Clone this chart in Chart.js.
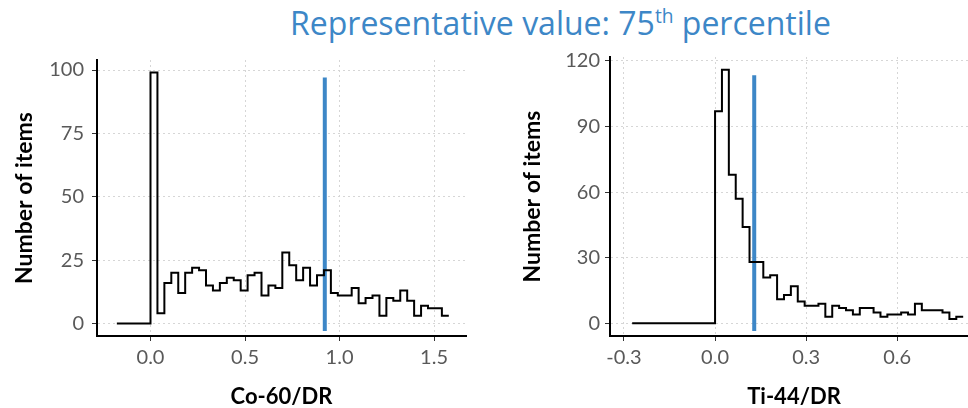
<!DOCTYPE html>
<html>
<head>
<meta charset="utf-8">
<script src="https://cdn.jsdelivr.net/npm/chart.js@4"></script>
<style>
  html, body { margin: 0; padding: 0; background: #fff; overflow: hidden; }
  body { width: 968px; height: 408px; position: relative; }
  #title {
    position: absolute; left: 290px; top: 5px; margin: 0;
    font-family: "Open Sans", sans-serif; font-size: 32px; font-weight: 400;
    line-height: 36px; color: #3d87c7; white-space: nowrap;
  }
  #title sup { font-size: 60%; line-height: 0; }
  #left { position: absolute; left: 0; top: 40px; }
  #right { position: absolute; left: 500px; top: 40px; }
</style>
</head>
<body>
<div id="title">Representative value: 75<sup>th</sup> percentile</div>
<canvas id="left" width="480" height="368"></canvas>
<canvas id="right" width="490" height="368"></canvas>
<script>
// Co-60/DR histogram (counts per bin, bins start at 0)
const co60Counts = [99, 4, 16, 20, 12, 20, 22, 21, 15, 13, 16, 18, 17, 13, 19, 20, 11, 15, 14, 28,
                    23, 17, 22, 15, 19, 21, 12, 11, 11, 14, 8, 10, 11, 3, 10, 9, 13, 9, 3, 7, 6, 6, 3];
const co60BinWidth = 0.0367;
const co60LeadIn = -0.178;
const co60Rep = [0.922, -3, 97];      // x, y from, y to
const co60XTicks = [0, 0.5, 1, 1.5];
const co60YTicks = [0, 25, 50, 75, 100];

// Ti-44/DR histogram
const ti44Counts = [97, 116, 68, 57, 44, 28, 28, 21, 22, 11, 13, 17, 10, 8, 8, 9, 3, 8, 7, 6,
                    4, 7, 7, 5, 3, 4, 4, 5, 4, 9, 6, 6, 6, 5, 2, 3];
const ti44BinWidth = 0.0227;
const ti44LeadIn = -0.273;
const ti44Rep = [0.129, -3.5, 113.5];
const ti44XTicks = [-0.3, 0, 0.3, 0.6];
const ti44YTicks = [0, 30, 60, 90, 120];

const FONT = "Lato, 'Liberation Sans', sans-serif";
const BLUE = "#3d87c7";

function stepPoints(leadIn, width, counts) {
  const pts = [{ x: leadIn, y: 0 }];
  counts.forEach((c, i) => pts.push({ x: i * width, y: c }));
  pts.push({ x: counts.length * width, y: counts[counts.length - 1] });
  return pts;
}

function renderHist(canvasId, o) {
  new Chart(document.getElementById(canvasId), {
    type: "line",
    data: {
      datasets: [
        {
          data: stepPoints(o.leadIn, o.binWidth, o.counts),
          stepped: true,
          borderColor: "#000",
          borderWidth: 2,
          pointRadius: 0,
          fill: false
        },
        {
          data: [{ x: o.rep[0], y: o.rep[1] }, { x: o.rep[0], y: o.rep[2] }],
          borderColor: BLUE,
          borderWidth: 4,
          borderCapStyle: "butt",
          pointRadius: 0,
          fill: false
        }
      ]
    },
    options: {
      responsive: false,
      animation: false,
      layout: { padding: { top: 14, right: o.padRight, left: 0, bottom: 0 } },
      plugins: { legend: { display: false }, tooltip: { enabled: false } },
      scales: {
        x: {
          type: "linear",
          min: o.xMin,
          max: o.xMax,
          afterBuildTicks: s => { s.ticks = o.xTicks.map(v => ({ value: v })); },
          afterFit: s => { s.height = 72; },
          ticks: {
            callback: v => v.toFixed(1),
            color: "#595959",
            font: { family: FONT, size: 20 },
            padding: 5,
            maxRotation: 0
          },
          grid: { color: "#d6d6d6", lineWidth: 1, tickColor: "#333", tickLength: 5 },
          border: { color: "#000", width: 2, dash: [2, 3] },
          title: {
            display: true,
            text: o.xTitle,
            color: "#000",
            font: { family: FONT, size: 22, weight: "bold", lineHeight: 1 },
            padding: { top: 0, bottom: 0 }
          }
        },
        y: {
          type: "linear",
          min: o.yMin,
          max: o.yMax,
          afterBuildTicks: s => { s.ticks = o.yTicks.map(v => ({ value: v })); },
          afterFit: s => { s.width = o.yWidth; },
          ticks: {
            color: "#595959",
            font: { family: FONT, size: 20 },
            padding: o.yTickPad
          },
          grid: { color: "#d6d6d6", lineWidth: 1, tickColor: "#333", tickLength: 5 },
          border: { color: "#000", width: 2, dash: [2, 3] },
          title: {
            display: true,
            text: "Number of items",
            color: "#000",
            font: { family: FONT, size: 23, weight: "bold", lineHeight: 1 },
            padding: { top: o.yTitlePad, bottom: 0 }
          }
        }
      }
    }
  });
}

renderHist("left", {
  counts: co60Counts, binWidth: co60BinWidth, leadIn: co60LeadIn, rep: co60Rep,
  xTicks: co60XTicks, yTicks: co60YTicks, xTitle: "Co-60/DR",
  xMin: -0.283, xMax: 1.669, yMin: -4.95, yMax: 103.95,
  yWidth: 97, padRight: 14, yTickPad: 8, yTitlePad: 13
});

renderHist("right", {
  counts: ti44Counts, binWidth: ti44BinWidth, leadIn: ti44LeadIn, rep: ti44Rep,
  xTicks: ti44XTicks, yTicks: ti44YTicks, xTitle: "Ti-44/DR",
  xMin: -0.346, xMax: 0.866, yMin: -5.8, yMax: 121.8,
  yWidth: 110, padRight: 12, yTickPad: 5, yTitlePad: 21
});
</script>
</body>
</html>
